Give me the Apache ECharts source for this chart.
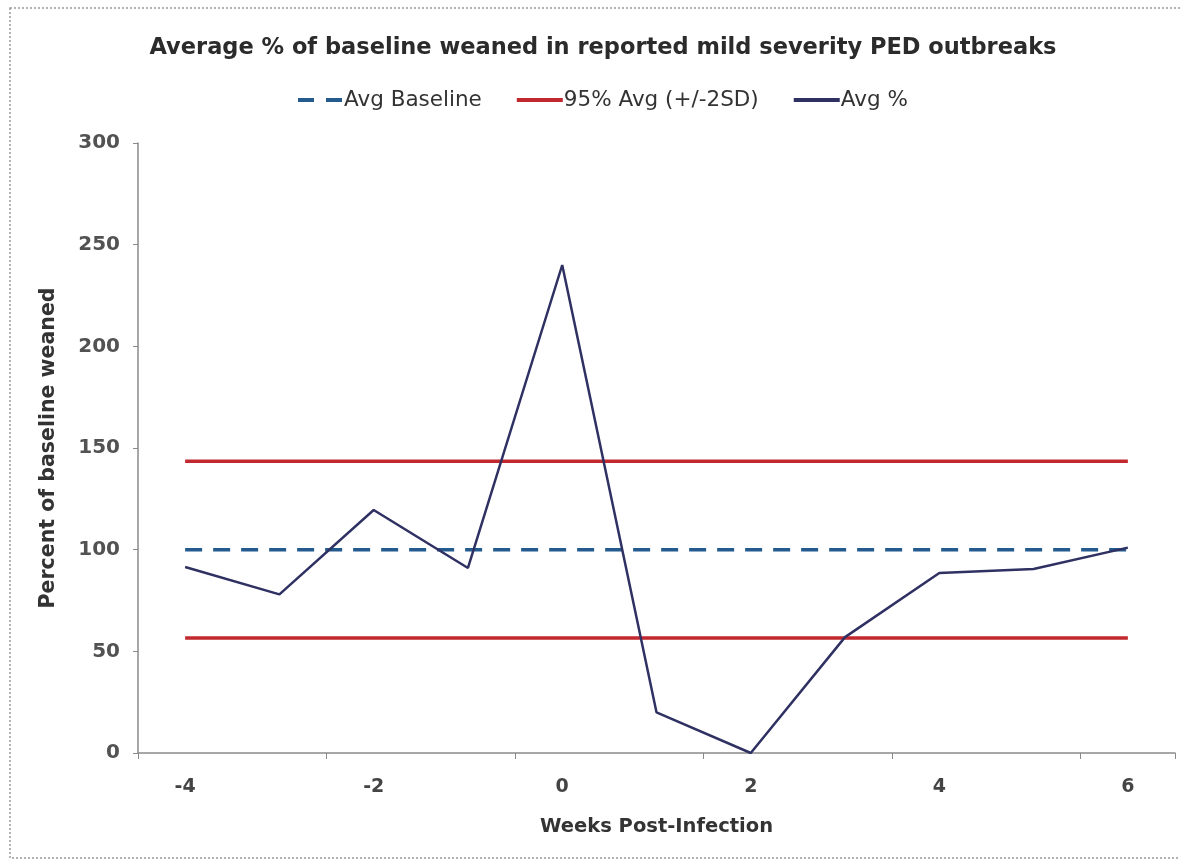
<!DOCTYPE html>
<html>
<head>
<meta charset="utf-8">
<script src="https://cdn.jsdelivr.net/npm/echarts@6/dist/echarts.min.js"></script>
<style>
html,body{margin:0;padding:0;background:#fff;}
#chart{width:1180px;height:863px;}
</style>
</head>
<body>
<div id="chart"></div>
<script>
var weeks = ['-4','-3','-2','-1','0','1','2','3','4','5','6'];
var avgBaseline = [100,100,100,100,100,100,100,100,100,100,100];
var upper95 = [143.5,143.5,143.5,143.5,143.5,143.5,143.5,143.5,143.5,143.5,143.5];
var lower95 = [56.5,56.5,56.5,56.5,56.5,56.5,56.5,56.5,56.5,56.5,56.5];
var avgPct = [91.5,78,119.5,91,240,20,0,57,88.5,90.5,101];

var titleText = 'Average % of baseline weaned in reported mild severity PED outbreaks';
var yName = 'Percent of baseline weaned';
var xName = 'Weeks Post-Infection';

var chart = echarts.init(document.getElementById('chart'));
var redColor = '#C2292E';
var blueColor = '#245B8E';
var navyColor = '#2F3163';
var option = {
  backgroundColor: '#fff',
  animation: false,
  title: {
    text: titleText,
    left: 598, top: 32, textAlign: 'center',
    textStyle: {fontFamily: 'DejaVu Sans', fontWeight: 'bold', fontSize: 22.5, color: '#2b2b2b'}
  },
  legend: {
    top: 84, left: 293,
    itemWidth: 46, itemHeight: 4, itemGap: 35,
    textStyle: {fontFamily: 'DejaVu Sans', fontSize: 21.5, color: '#333', padding: [0,0,0,-4]},
    data: [
      {name: 'Avg Baseline', icon: 'path://M0,0h16v4h-16z M28,0h16v4h-16z', itemStyle: {color: blueColor}},
      {name: '95% Avg (+/-2SD)', icon: 'rect', itemStyle: {color: redColor}},
      {name: 'Avg %', icon: 'rect', itemStyle: {color: navyColor}}
    ]
  },
  grid: {left: 138, right: 5, top: 143, bottom: 110, containLabel: false},
  xAxis: {
    type: 'category',
    data: weeks,
    boundaryGap: true,
    name: xName,
    nameLocation: 'middle',
    nameGap: 64,
    nameTextStyle: {fontFamily: 'DejaVu Sans', fontWeight: 'bold', fontSize: 19.5, color: '#333'},
    axisLine: {lineStyle: {color: '#8a8a8a', width: 1.5}},
    axisTick: {show: true, interval: 1, length: 6, lineStyle: {color: '#8a8a8a'}},
    axisLabel: {interval: 1, margin: 25, fontFamily: 'DejaVu Sans', fontWeight: 'bold', fontSize: 19, color: '#444'},
    splitLine: {show: false}
  },
  yAxis: {
    type: 'value',
    min: 0, max: 300, interval: 50,
    name: yName,
    nameLocation: 'middle',
    nameGap: 79,
    nameTextStyle: {fontFamily: 'DejaVu Sans', fontWeight: 'bold', fontSize: 20.5, color: '#333'},
    axisLine: {show: true, lineStyle: {color: '#8a8a8a', width: 1.5}},
    axisTick: {show: true, length: 5, lineStyle: {color: '#8a8a8a'}},
    axisLabel: {margin: 18, fontFamily: 'DejaVu Sans', fontWeight: 'bold', fontSize: 20, color: '#525252'},
    splitLine: {show: false}
  },
  series: [
    {
      name: 'Avg Baseline', type: 'line', data: avgBaseline, symbol: 'none',
      lineStyle: {color: blueColor, width: 3.5, type: [17, 11]},
      itemStyle: {color: blueColor}
    },
    {
      name: '95% Avg (+/-2SD)', type: 'line', data: upper95, symbol: 'none',
      lineStyle: {color: redColor, width: 3.5},
      itemStyle: {color: redColor}
    },
    {
      name: '95% Avg (+/-2SD)', type: 'line', data: lower95, symbol: 'none',
      lineStyle: {color: redColor, width: 3.5},
      itemStyle: {color: redColor}
    },
    {
      name: 'Avg %', type: 'line', data: avgPct, symbol: 'none', z: 5,
      lineStyle: {color: navyColor, width: 2.5},
      itemStyle: {color: navyColor}
    }
  ],
  graphic: [
    {
      type: 'rect', shape: {x: 10, y: 8, width: 1175, height: 850}, silent: true,
      style: {fill: 'none', stroke: '#9a9a9a', lineWidth: 1.5, lineDash: [2, 2]}
    }
  ]
};
chart.setOption(option);
</script>
</body>
</html>
